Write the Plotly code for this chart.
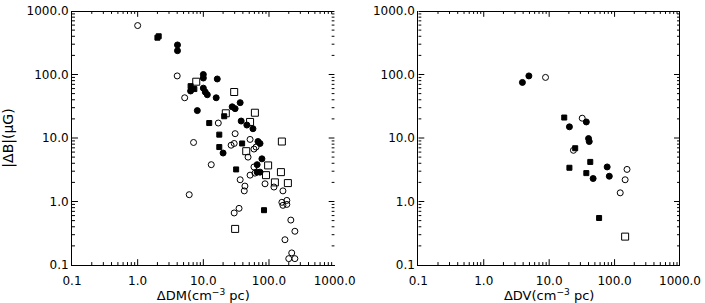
import plotly.graph_objects as go

# ---------------- data: left panel (ΔDM vs |ΔB|) ----------------
dm_fc_x = [4.04, 4.04, 10, 10, 16.3, 6.4, 10, 10.7, 11.5, 15.7, 36.4, 27.5, 30.5, 8.1,
           37.7, 46, 57, 68, 73, 20, 78, 66, 66, 73]
dm_fc_y = [292, 237, 100, 88, 85, 55, 61, 53, 48, 43, 36, 31, 29, 27,
           18.5, 16, 14, 8.8, 8.2, 5.8, 4.7, 3.8, 2.9, 2.9]

dm_fs_x = [2.09, 2.0, 6.4, 7.3, 20.8, 12.3, 17.5, 39, 17.5, 31.6, 84]
dm_fs_y = [400, 380, 65.6, 59, 22, 17.2, 11.3, 8.2, 7.2, 3.2, 0.73]

dm_oc_x = [1.0, 4.0, 5.2, 16.9, 30.5, 7.1, 29.5, 51.5, 59, 26.5, 63.5, 13.2, 48, 59,
           61, 51.5, 36.4, 87, 43, 42, 119, 163, 6.1, 157, 187, 163, 187, 35, 29.5,
           215, 248, 175, 222, 200, 248]
dm_oc_y = [590, 95, 43, 17.2, 11.7, 8.5, 8.2, 9.5, 6.7, 7.7, 7.2, 3.8, 5.0, 3.5,
           2.8, 2.6, 2.2, 1.9, 1.75, 1.47, 1.69, 1.47, 1.28, 0.97, 1.04, 0.87, 0.90, 0.78, 0.66,
           0.51, 0.34, 0.25, 0.155, 0.126, 0.126]

dm_os_x = [7.8, 29.5, 61, 22, 51.5, 157, 45, 97, 90, 152, 123, 194, 30.5]
dm_os_y = [77, 53, 25, 24.5, 17.9, 8.8, 6.2, 3.7, 2.6, 2.9, 2.0, 1.95, 0.37]

# ---------------- data: right panel (ΔDV vs |ΔB|) ----------------
dv_fc_x = [3.9, 4.9, 37, 20.4, 40, 41, 77, 47, 83]
dv_fc_y = [75, 95, 17.9, 15, 9.8, 8.8, 3.5, 2.3, 2.5]

dv_fs_x = [17, 25, 42.5, 20.4, 37, 58]
dv_fs_y = [21, 6.9, 4.2, 3.4, 2.8, 0.55]

dv_oc_x = [8.8, 32, 23.5, 155, 145, 122]
dv_oc_y = [90, 20.5, 6.4, 3.2, 2.2, 1.37]

dv_os_x = [145]
dv_os_y = [0.28]

tick_vals = [0.1, 1, 10, 100, 1000]
tick_text = ["0.1", "1.0", "10.0", "100.0", "1000.0"]
minor_vals = [m * d for d in [0.1, 1, 10, 100] for m in range(2, 10)]

FONT = "DejaVu Sans"
W, H = 705, 303
MARGIN = dict(l=72, r=22, t=4, b=38)
L_DOM = [0, 0.432]
R_DOM = [0.5696, 1.0]
LO, HI = 0.1, 1000.0          # axis range (data units)
DECADES = 4                   # log10(HI/LO)

fig = go.Figure()

def add(x, y, sym, size, xa, ya):
    fig.add_trace(go.Scatter(
        x=x, y=y, mode="markers", xaxis=xa, yaxis=ya, showlegend=False,
        marker=dict(symbol=sym, size=size, color="black",
                    line=dict(color="black", width=1)),
    ))

add(dm_fc_x, dm_fc_y, "circle", 6, "x", "y")
add(dm_fs_x, dm_fs_y, "square", 5, "x", "y")
add(dm_oc_x, dm_oc_y, "circle-open", 6, "x", "y")
add(dm_os_x, dm_os_y, "square-open", 7, "x", "y")

add(dv_fc_x, dv_fc_y, "circle", 6, "x2", "y2")
add(dv_fs_x, dv_fs_y, "square", 5, "x2", "y2")
add(dv_oc_x, dv_oc_y, "circle-open", 6, "x2", "y2")
add(dv_os_x, dv_os_y, "square-open", 7, "x2", "y2")

# ---- inward tick marks and the top/right frame, drawn as line traces on the axes ----
plot_w = W - MARGIN["l"] - MARGIN["r"]
plot_h = H - MARGIN["t"] - MARGIN["b"]

def panel_decor(xa, ya, dom, right_line):
    fx = 10 ** (DECADES / ((dom[1] - dom[0]) * plot_w))   # factor per pixel along x
    fy = 10 ** (DECADES / plot_h)                          # factor per pixel along y
    xs, ys = [], []
    for vals, ln in ((tick_vals[1:-1], 6), (minor_vals, 3)):
        for v in vals:
            xs += [v, v, None, v, v, None]
            ys += [LO, LO * fy ** ln, None, HI, HI / fy ** ln, None]
            xs += [LO, LO * fx ** ln, None, HI, HI / fx ** ln, None]
            ys += [v, v, None, v, v, None]
    fig.add_trace(go.Scatter(x=xs, y=ys, mode="lines", xaxis=xa, yaxis=ya,
                             showlegend=False, hoverinfo="skip",
                             line=dict(color="black", width=1)))
    fxs = [LO, HI] + ([HI] if right_line else [])
    fys = [HI, HI] + ([LO] if right_line else [])
    fig.add_trace(go.Scatter(x=fxs, y=fys, mode="lines", xaxis=xa, yaxis=ya,
                             showlegend=False, hoverinfo="skip",
                             line=dict(color="black", width=2)))

panel_decor("x", "y", L_DOM, right_line=False)
panel_decor("x2", "y2", R_DOM, right_line=True)

def axis(**kw):
    base = dict(
        type="log", range=[-1, 3],
        tickvals=tick_vals, ticktext=tick_text, ticks="",
        showline=True, linecolor="black", linewidth=1,
        showgrid=False, zeroline=False,
    )
    base.update(kw)
    return base

fig.update_layout(
    width=W, height=H,
    margin=MARGIN,
    plot_bgcolor="white",
    font=dict(family=FONT, size=12, color="black"),
    xaxis=axis(domain=L_DOM, anchor="y", ticklabelstandoff=5,
               title=dict(text="ΔDM(cm<sup>−3</sup> pc)", standoff=0, font=dict(size=13))),
    yaxis=axis(anchor="x", ticklabeloverflow="allow",
               title=dict(text="|ΔB|(μG)", standoff=12)),
    xaxis2=axis(domain=R_DOM, anchor="y2", ticklabelstandoff=5,
                title=dict(text="ΔDV(cm<sup>−3</sup> pc)", standoff=0, font=dict(size=13))),
    yaxis2=axis(anchor="x2", ticklabeloverflow="allow"),
)

fig.write_html("out.html", post_script="document.body.style.margin='0';",
               config={"displayModeBar": False})
